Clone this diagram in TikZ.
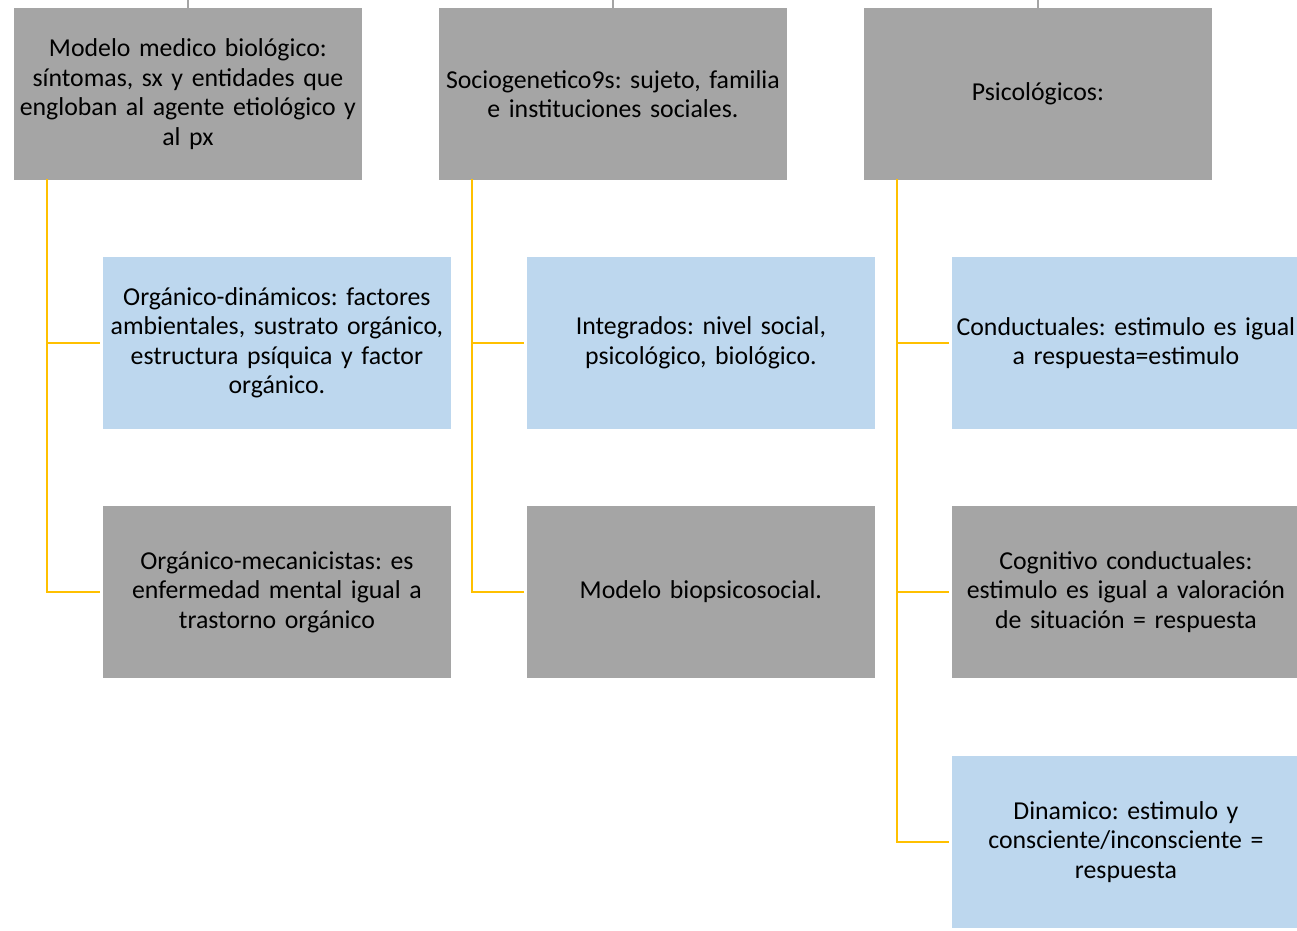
\documentclass[tikz,border=0pt]{standalone}
\usepackage{fontspec}
\setmainfont{Carlito}
\definecolor{boxgrey}{HTML}{A5A5A5}
\definecolor{boxblue}{HTML}{BDD7EE}
\definecolor{connyellow}{HTML}{FFC000}
\definecolor{stubgrey}{HTML}{A5A5A5}
\begin{document}
\frenchspacing
\begin{tikzpicture}[x=1pt,y=-1pt,
  box/.style={anchor=north west, minimum width=349pt, minimum height=173pt,
    text width=349pt, inner sep=0pt, align=center, draw=white, line width=0.8pt,
    font=\fontsize{25.8}{29.5}\selectfont\frenchspacing, text=black},
  greybox/.style={box, fill=boxgrey},
  bluebox/.style={box, fill=boxblue},
  conn/.style={draw=connyellow, line width=2.8pt},
  stub/.style={draw=stubgrey, line width=2.8pt}]
\fill[white] (0,0) rectangle (1297,930);
\useasboundingbox (0,0) rectangle (1297,930);

% top-level boxes
\node[greybox] (p1) at (13,7) {Modelo medico biológico:\\síntomas, sx y entidades que\\engloban al agente etiológico y\\al px};
\node[greybox] (p2) at (438,7) {Sociogenetico9s: sujeto, familia\\e instituciones sociales.};
\node[greybox] (p3) at (863,7) {Psicológicos:};

% children column 1
\node[bluebox] (c11) at (102,256) {Orgánico-dinámicos: factores\\ambientales, sustrato orgánico,\\estructura psíquica y factor\\orgánico.};
\node[greybox] (c12) at (102,505) {Orgánico-mecanicistas: es\\enfermedad mental igual a\\trastorno orgánico};

% children column 2
\node[bluebox] (c21) at (526,256) {Integrados: nivel social,\\psicológico, biológico.};
\node[greybox] (c22) at (526,505) {Modelo biopsicosocial.};

% children column 3
\node[bluebox] (c31) at (951,256) {Conductuales: estimulo es igual\\a respuesta=estimulo};
\node[greybox] (c32) at (951,505) {Cognitivo conductuales:\\estimulo es igual a valoración\\de situación = respuesta};
\node[bluebox] (c33) at (951,755) {Dinamico: estimulo y\\consciente/inconsciente =\\respuesta};

% stubs above top boxes
\coordinate (t1) at (p1.north |- 0,0);
\coordinate (t2) at (p2.north |- 0,0);
\coordinate (t3) at (p3.north |- 0,0);
\draw[stub] (t1) -- ([yshift=-2pt]p1.north);
\draw[stub] (t2) -- ([yshift=-2pt]p2.north);
\draw[stub] (t3) -- ([yshift=-2pt]p3.north);

% connectors
\coordinate (s1) at ([xshift=34pt,yshift=2pt]p1.south west);
\coordinate (s2) at ([xshift=34pt,yshift=2pt]p2.south west);
\coordinate (s3) at ([xshift=34pt,yshift=2pt]p3.south west);
\draw[conn] (s1) |- ([xshift=-2pt]c11.west);
\draw[conn] (s1) |- ([xshift=-2pt]c12.west);
\draw[conn] (s2) |- ([xshift=-2pt]c21.west);
\draw[conn] (s2) |- ([xshift=-2pt]c22.west);
\draw[conn] (s3) |- ([xshift=-2pt]c31.west);
\draw[conn] (s3) |- ([xshift=-2pt]c32.west);
\draw[conn] (s3) |- ([xshift=-2pt]c33.west);
\end{tikzpicture}
\end{document}
